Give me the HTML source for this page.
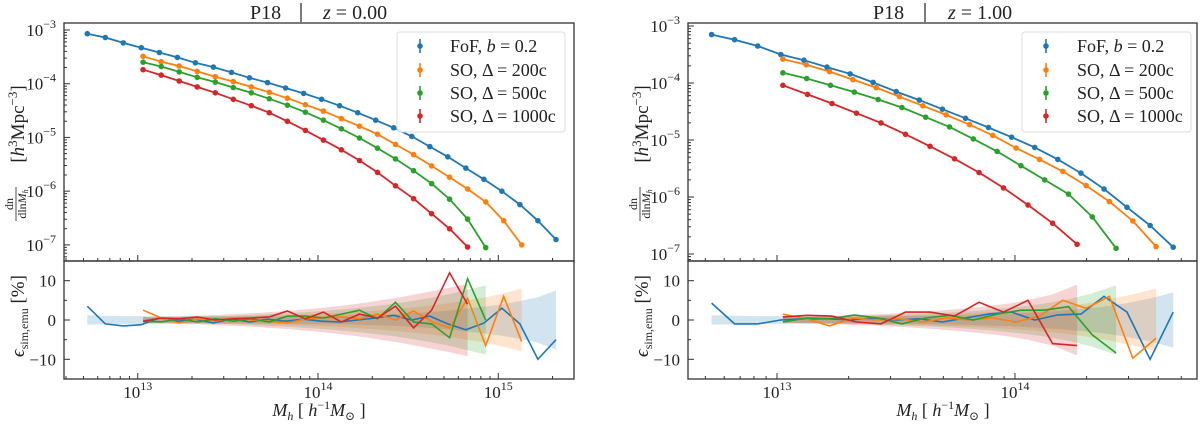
<!DOCTYPE html>
<html><head><meta charset="utf-8"><style>
html,body{margin:0;padding:0;background:#fff;}
svg{display:block;font-family:"Liberation Serif","DejaVu Serif",serif;}
</style></head><body>
<svg id="fig" width="1200" height="425" viewBox="0 0 1200 425" xmlns="http://www.w3.org/2000/svg">
<rect x="0" y="0" width="1200" height="425" fill="#fff"/>
<g font-size="20" fill="#222">
<text x="250" y="19">P18</text><line x1="301" y1="3" x2="301" y2="22" stroke="#222" stroke-width="1.2"/><text x="323" y="19"><tspan font-style="italic">z</tspan> = 0.00</text></g>
<g font-size="20" fill="#222">
<text x="873" y="19">P18</text><line x1="925" y1="3" x2="925" y2="22" stroke="#222" stroke-width="1.2"/><text x="948" y="19"><tspan font-style="italic">z</tspan> = 1.00</text></g>
<g fill="#222">
<g transform="translate(0,204) rotate(-90)"><text x="0" y="13" font-size="12" text-anchor="middle">dn</text><line x1="-17" y1="16" x2="17" y2="16" stroke="#222" stroke-width="0.8"/><text x="0" y="26" font-size="12" text-anchor="middle">dln<tspan font-style="italic">M</tspan><tspan font-size="8" font-style="italic" dy="2">h</tspan></text></g>
<text transform="translate(24,124) rotate(-90)" font-size="19" text-anchor="middle">[<tspan font-style="italic">h</tspan><tspan font-size="13" dy="-7">3</tspan><tspan dy="7">Mpc</tspan><tspan font-size="13" dy="-7">−3</tspan><tspan dy="7">]</tspan></text></g>
<g fill="#222">
<g transform="translate(624,204) rotate(-90)"><text x="0" y="13" font-size="12" text-anchor="middle">dn</text><line x1="-17" y1="16" x2="17" y2="16" stroke="#222" stroke-width="0.8"/><text x="0" y="26" font-size="12" text-anchor="middle">dln<tspan font-style="italic">M</tspan><tspan font-size="8" font-style="italic" dy="2">h</tspan></text></g>
<text transform="translate(648,124) rotate(-90)" font-size="19" text-anchor="middle">[<tspan font-style="italic">h</tspan><tspan font-size="13" dy="-7">3</tspan><tspan dy="7">Mpc</tspan><tspan font-size="13" dy="-7">−3</tspan><tspan dy="7">]</tspan></text></g>
<text transform="translate(24,316) rotate(-90)" font-size="19" text-anchor="middle" fill="#222"><tspan font-style="italic">ϵ</tspan><tspan font-size="12" dy="4">sim,emu</tspan><tspan dy="-4"> [%]</tspan></text>
<text transform="translate(648,316) rotate(-90)" font-size="19" text-anchor="middle" fill="#222"><tspan font-style="italic">ϵ</tspan><tspan font-size="12" dy="4">sim,emu</tspan><tspan dy="-4"> [%]</tspan></text>
<text x="319" y="416" font-size="18" text-anchor="middle" fill="#222"><tspan font-style="italic">M</tspan><tspan font-size="12" font-style="italic" dy="4">h</tspan><tspan dy="-4">  [ </tspan><tspan font-style="italic">h</tspan><tspan font-size="12" dy="-7">−1</tspan><tspan font-style="italic" dy="7">M</tspan><tspan font-size="12" dy="4">⊙</tspan><tspan dy="-4"> ]</tspan></text>
<text x="943" y="416" font-size="18" text-anchor="middle" fill="#222"><tspan font-style="italic">M</tspan><tspan font-size="12" font-style="italic" dy="4">h</tspan><tspan dy="-4">  [ </tspan><tspan font-style="italic">h</tspan><tspan font-size="12" dy="-7">−1</tspan><tspan font-style="italic" dy="7">M</tspan><tspan font-size="12" dy="4">⊙</tspan><tspan dy="-4"> ]</tspan></text>
<g id="marks"></g>
</svg>
<script>
const seriesNames = ['FoF, b = 0.2','SO, Δ = 200c','SO, Δ = 500c','SO, Δ = 1000c'];
const seriesColors = ['#1f77b4','#ff7f0e','#2ca02c','#d62728'];
const z0Start = [12.72, 13.03, 13.03, 13.03];
const z0Step = [0.1, 0.1, 0.1, 0.1];
const z0LogDnBlue = [-3.07,-3.14,-3.24,-3.33,-3.42,-3.51,-3.61,-3.69,-3.79,-3.89,-3.98,-4.08,-4.18,-4.29,-4.41,-4.54,-4.68,-4.82,-4.98,-5.17,-5.36,-5.57,-5.78,-6.0,-6.25,-6.55,-6.9];
const z0LogDnOrange = [-3.49,-3.59,-3.67,-3.77,-3.87,-3.96,-4.06,-4.16,-4.27,-4.39,-4.51,-4.65,-4.79,-4.94,-5.13,-5.32,-5.53,-5.74,-5.96,-6.2,-6.55,-7.0];
const z0LogDnGreen = [-3.6,-3.68,-3.78,-3.88,-3.97,-4.07,-4.17,-4.28,-4.4,-4.53,-4.68,-4.84,-5.01,-5.2,-5.4,-5.62,-5.86,-6.15,-6.52,-7.05];
const z0LogDnRed = [-3.74,-3.84,-3.95,-4.06,-4.17,-4.29,-4.41,-4.54,-4.7,-4.87,-5.05,-5.23,-5.43,-5.65,-5.9,-6.14,-6.42,-6.7,-7.04];
const z0ResBlue = [3.5,-1,-1.5,-1.2,0.5,-0.3,0.2,-0.8,0.3,-0.5,0.2,-0.3,0.2,-0.3,-0.5,0,0.5,1.2,0,1,-1,-2.5,-0.8,3,-1,-10,-5];
const z0ResOrange = [2.5,0.5,-0.8,0.3,-0.3,0.5,0,-0.3,-0.8,0.3,0.5,0.8,0.3,1.5,0,2.3,-0.4,-2,5.5,-6.5,6,-5.5];
const z0ResGreen = [-0.3,-0.5,0.3,-0.5,0.3,-0.3,0.3,-0.5,1,1,0.5,1.5,2.5,0.3,4.5,-0.5,-1,-4.5,10.5,0];
const z0ResRed = [-0.3,0.5,0.3,0.8,0,0.3,0.5,0.8,2.3,0.3,2,-0.5,1.5,0.5,3.5,-2,2.5,12,4];
const z0ErrBlue = [1.2,1.1,1.0,1.0,0.9,0.9,0.9,0.9,0.9,0.9,0.9,0.9,1.0,1.0,1.1,1.2,1.3,1.5,1.7,2.0,2.4,2.9,3.4,4.0,4.8,5.8,7.5];
const z0ErrOrange = [0.6,0.6,0.7,0.7,0.8,0.9,1.0,1.1,1.2,1.4,1.6,1.8,2.1,2.4,2.8,3.2,3.7,4.3,5.0,5.8,6.8,8.0];
const z0ErrGreen = [0.7,0.7,0.8,0.9,1.0,1.1,1.3,1.5,1.7,2.0,2.3,2.7,3.1,3.6,4.2,4.9,5.7,6.6,7.7,8.8];
const z0ErrRed = [0.8,0.9,1.0,1.1,1.3,1.5,1.7,2.0,2.3,2.7,3.1,3.6,4.2,4.9,5.6,6.4,7.3,8.2,9.2];
const z1Start = [12.725, 13.025, 13.025, 13.025];
const z1Step = [0.097, 0.098, 0.1, 0.103];
const z1LogDnBlue = [-3.15,-3.24,-3.35,-3.5,-3.6,-3.72,-3.84,-3.99,-4.15,-4.3,-4.46,-4.62,-4.78,-4.95,-5.13,-5.34,-5.58,-5.86,-6.18,-6.5,-6.88];
const z1LogDnOrange = [-3.58,-3.68,-3.8,-3.94,-4.08,-4.24,-4.4,-4.56,-4.73,-4.92,-5.14,-5.34,-5.55,-5.8,-6.08,-6.42,-6.87];
const z1LogDnGreen = [-3.82,-3.92,-4.04,-4.16,-4.29,-4.43,-4.6,-4.77,-4.98,-5.2,-5.45,-5.7,-5.95,-6.35,-6.9];
const z1LogDnRed = [-4.04,-4.2,-4.36,-4.53,-4.7,-4.9,-5.11,-5.33,-5.57,-5.84,-6.14,-6.46,-6.83];
const z1ResBlue = [4.3,-1,-1,0,0.3,0.3,0,0.5,0,0.3,-0.5,0.5,1.5,2,0,1.3,1.5,6,2,-10,2];
const z1ResOrange = [1.5,0.3,-1.5,0.5,0,0.3,-0.5,0.5,0,0.5,-0.5,1,5,3,6,-9.7,-4.6];
const z1ResGreen = [-0.5,0.5,0.3,1.3,0.5,-1,0.5,1.2,0,1.5,2.5,2.5,3.4,-3.8,-8.4];
const z1ResRed = [0.8,1.2,1,-0.5,-1,2,2,1,4.5,2,5,-6,-6.5];
const z1ErrBlue = [1.2,1.1,1.0,1.0,0.9,0.9,0.9,0.9,1.0,1.0,1.1,1.2,1.4,1.6,1.9,2.3,2.8,3.4,4.3,5.5,7.0];
const z1ErrOrange = [0.6,0.7,0.8,0.9,1.0,1.1,1.3,1.5,1.7,2.0,2.4,2.8,3.4,4.2,5.2,6.5,8.0];
const z1ErrGreen = [0.7,0.8,0.9,1.0,1.2,1.4,1.6,1.9,2.3,2.8,3.4,4.2,5.3,6.8,8.8];
const z1ErrRed = [0.8,0.9,1.1,1.3,1.5,1.8,2.2,2.7,3.3,4.0,5.0,6.5,9.0];
const xMajorTicksZ0 = [13,14,15];
const xMajorTicksZ1 = [13,14];
const yMajorTicks = [-3,-4,-5,-6,-7];
const resTicks = [10,0,-10];

const NS='http://www.w3.org/2000/svg';
const root=document.getElementById('marks');
function mk(tag,attrs,parent){const e=document.createElementNS(NS,tag);for(const k in attrs)e.setAttribute(k,attrs[k]);(parent||root).appendChild(e);return e;}

const panels=[
 {key:'z0',x0:64,x1:574,m0:12.591,m1:15.42,yt:23,yd:261,yb:379,l0:-2.87,l1:-7.30,
  start:z0Start,step:z0Step,dn:[z0LogDnBlue,z0LogDnOrange,z0LogDnGreen,z0LogDnRed],
  res:[z0ResBlue,z0ResOrange,z0ResGreen,z0ResRed],err:[z0ErrBlue,z0ErrOrange,z0ErrGreen,z0ErrRed],
  xt:xMajorTicksZ0,leg:[397,420,450,565]},
 {key:'z1',x0:688,x1:1197,m0:12.626,m1:14.765,yt:23,yd:261,yb:379,l0:-2.947,l1:-7.123,
  start:z1Start,step:z1Step,dn:[z1LogDnBlue,z1LogDnOrange,z1LogDnGreen,z1LogDnRed],
  res:[z1ResBlue,z1ResOrange,z1ResGreen,z1ResRed],err:[z1ErrBlue,z1ErrOrange,z1ErrGreen,z1ErrRed],
  xt:xMajorTicksZ1,leg:[1022,1046,1077,1191]}
];
const serNames=['blue','orange','green','red'];

panels.forEach(p=>{
 const xs=m=>p.x0+(m-p.m0)/(p.m1-p.m0)*(p.x1-p.x0);
 const ys=l=>p.yt+(l-p.l0)/(p.l1-p.l0)*(p.yd-p.yt);
 const yr=v=>p.yd+(15-v)/30*(p.yb-p.yd);
 const g=mk('g',{});
 
 
 for(let s=0;s<4;s++){
  const e=p.err[s];let up=[],dn=[];
  e.forEach((v,i)=>{const m=p.start[s]+i*p.step[s];up.push(xs(m).toFixed(1)+','+yr(v).toFixed(1));dn.unshift(xs(m).toFixed(1)+','+yr(-v).toFixed(1));});
  const b=mk('polygon',{points:up.concat(dn).join(' '),fill:seriesColors[s],'fill-opacity':0.2,stroke:'none'},g);
  
  
 }
 for(let s=0;s<4;s++){
  const pts=p.res[s].map((v,i)=>{const m=p.start[s]+i*p.step[s];return xs(m).toFixed(1)+','+yr(v).toFixed(1);});
  const l=mk('polyline',{points:pts.join(' '),fill:'none',stroke:seriesColors[s],'stroke-width':1.6},g);
  
  
 }
 for(let s=0;s<4;s++){
  const pts=p.dn[s].map((v,i)=>{const m=p.start[s]+i*p.step[s];return [xs(m),ys(v)];});
  const l=mk('polyline',{points:pts.map(q=>q[0].toFixed(1)+','+q[1].toFixed(1)).join(' '),fill:'none',stroke:seriesColors[s],'stroke-width':1.8,'stroke-linejoin':'round'},g);
  
  
  pts.forEach(q=>{
   const c=mk('circle',{cx:q[0].toFixed(1),cy:q[1].toFixed(1),r:2.8,fill:seriesColors[s]},g);
   
   
  });
 }
 const f1=mk('rect',{x:p.x0,y:p.yt,width:p.x1-p.x0,height:p.yd-p.yt,fill:'none',stroke:'#333','stroke-width':1.3},g);
 
 
 const f2=mk('rect',{x:p.x0,y:p.yd,width:p.x1-p.x0,height:p.yb-p.yd,fill:'none',stroke:'#333','stroke-width':1.3},g);
 
 
 for(let d=12;d<=15;d++){for(let k=1;k<=9;k++){
  const m=d+Math.log10(k);if(m<p.m0||m>p.m1)continue;const x=xs(m);const L=k===1?6:3;
  [p.yd,p.yb].forEach(yy=>mk('line',{x1:x,y1:yy,x2:x,y2:yy-L,stroke:'#333','stroke-width':1},g));
 }}
 p.xt.forEach(m=>{
  const t=mk('text',{x:xs(m),y:398,'font-size':17,'text-anchor':'middle',fill:'#222'},g);
  t.innerHTML='10<tspan font-size="12" dy="-8">'+m+'</tspan>';
  
  
 });
 for(let d=-8;d<=-3;d++){for(let k=1;k<=9;k++){
  const l=d+Math.log10(k);if(l>p.l0||l<p.l1)continue;const y=ys(l);
  mk('line',{x1:p.x0,y1:y,x2:p.x0+(k===1?6:3),y2:y,stroke:'#333','stroke-width':1},g);
 }}
 yMajorTicks.forEach(l=>{
  const t=mk('text',{x:p.x0-8,y:ys(l)+6,'font-size':17,'text-anchor':'end',fill:'#222'},g);
  t.innerHTML='10<tspan font-size="12" dy="-8">−'+(-l)+'</tspan>';
  
  
 });
 resTicks.forEach(v=>{
  mk('line',{x1:p.x0,y1:yr(v),x2:p.x0+6,y2:yr(v),stroke:'#333','stroke-width':1},g);
  const t=mk('text',{x:p.x0-8,y:yr(v)+6,'font-size':17,'text-anchor':'end',fill:'#222'},g);
  t.textContent=v<0?'−'+(-v):String(v);
  
  
 });
 [-5,5].forEach(v=>mk('line',{x1:p.x0,y1:yr(v),x2:p.x0+3,y2:yr(v),stroke:'#333','stroke-width':1},g));
 const lg=mk('g',{},g);
 
 
 mk('rect',{x:p.leg[0],y:32,width:p.leg[3]-p.leg[0],height:100,rx:3,fill:'#fff','fill-opacity':0.85,stroke:'#ddd','stroke-width':1},lg);
 const rows=[46,70,93,116];
 for(let s=0;s<4;s++){
  const e=mk('g',{},lg);
  
  
  mk('line',{x1:p.leg[1],y1:rows[s]-7,x2:p.leg[1],y2:rows[s]+7,stroke:seriesColors[s],'stroke-width':1.6},e);
  mk('circle',{cx:p.leg[1],cy:rows[s],r:2.8,fill:seriesColors[s]},e);
  const t=mk('text',{x:p.leg[2],y:rows[s]+6,'font-size':18,fill:'#222'},e);
  t.innerHTML=s===0?'FoF, <tspan font-style="italic">b</tspan> = 0.2':seriesNames[s];
 }
});
</script>
</body></html>
